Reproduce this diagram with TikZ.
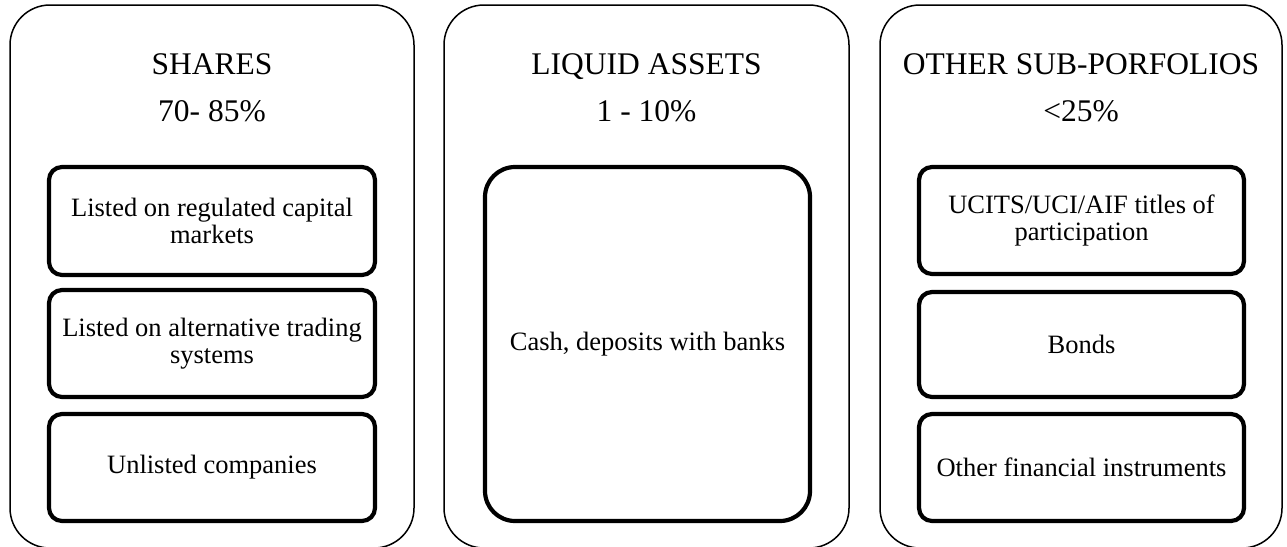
\documentclass[tikz,border=0pt]{standalone}
\usepackage{fontspec}
\setmainfont{Liberation Serif}
\begin{document}
\begin{tikzpicture}[x=1pt,y=-1pt,
  outerbox/.style={draw=black, line width=1.5pt, rounded corners=40pt, rectangle, inner sep=0pt, outer sep=0pt},
  innerbox/.style={draw=black, line width=4.2pt, rounded corners=13pt, rectangle, inner sep=0pt, outer sep=0pt,
     align=center, font=\fontsize{26.5}{27.5}\selectfont},
  bigbox/.style={innerbox, rounded corners=30pt},
  titletext/.style={anchor=base, inner sep=0pt, font=\fontsize{31.5}{36}\selectfont}
]
\useasboundingbox (0,0) rectangle (1287,546);
% outer boxes
\node[outerbox, minimum width=404pt, minimum height=543pt] (o1) at (212,276.5) {};
\node[outerbox, minimum width=405pt, minimum height=543pt] (o2) at (646.5,276.5) {};
\node[outerbox, minimum width=402pt, minimum height=543pt] (o3) at (1081,276.5) {};
% titles
\node[titletext] (t1) at (212,74) {SHARES};
\node[titletext] (p1) at (212,121) {70- 85\%};
\node[titletext] (t2) at (646.5,74) {LIQUID ASSETS};
\node[titletext] (p2) at (646.5,121) {1 - 10\%};
\node[titletext] (t3) at (1081,74) {OTHER SUB-PORFOLIOS};
\node[titletext] (p3) at (1081,121) {<25\%};
% shares
\node[innerbox, minimum width=326pt, minimum height=108pt] (s1) at (212,221) {Listed on regulated capital\\markets};
\node[innerbox, minimum width=326pt, minimum height=107pt] (s2) at (212,343.5) {Listed on alternative trading\\systems};
\node[innerbox, minimum width=326pt, minimum height=107pt] (s3) at (212,467.5) {Unlisted companies};
% liquid
\node[bigbox, minimum width=325pt, minimum height=354pt] (l1) at (647.5,344) {Cash, deposits with banks};
% other
\node[innerbox, minimum width=325pt, minimum height=107pt] (r1) at (1081.5,220.5) {UCITS/UCI/AIF titles of\\participation};
\node[innerbox, minimum width=325pt, minimum height=105pt] (r2) at (1081.5,344.5) {Bonds};
\node[innerbox, minimum width=325pt, minimum height=107pt] (r3) at (1081.5,467.5) {Other financial instruments};
\end{tikzpicture}
\end{document}
